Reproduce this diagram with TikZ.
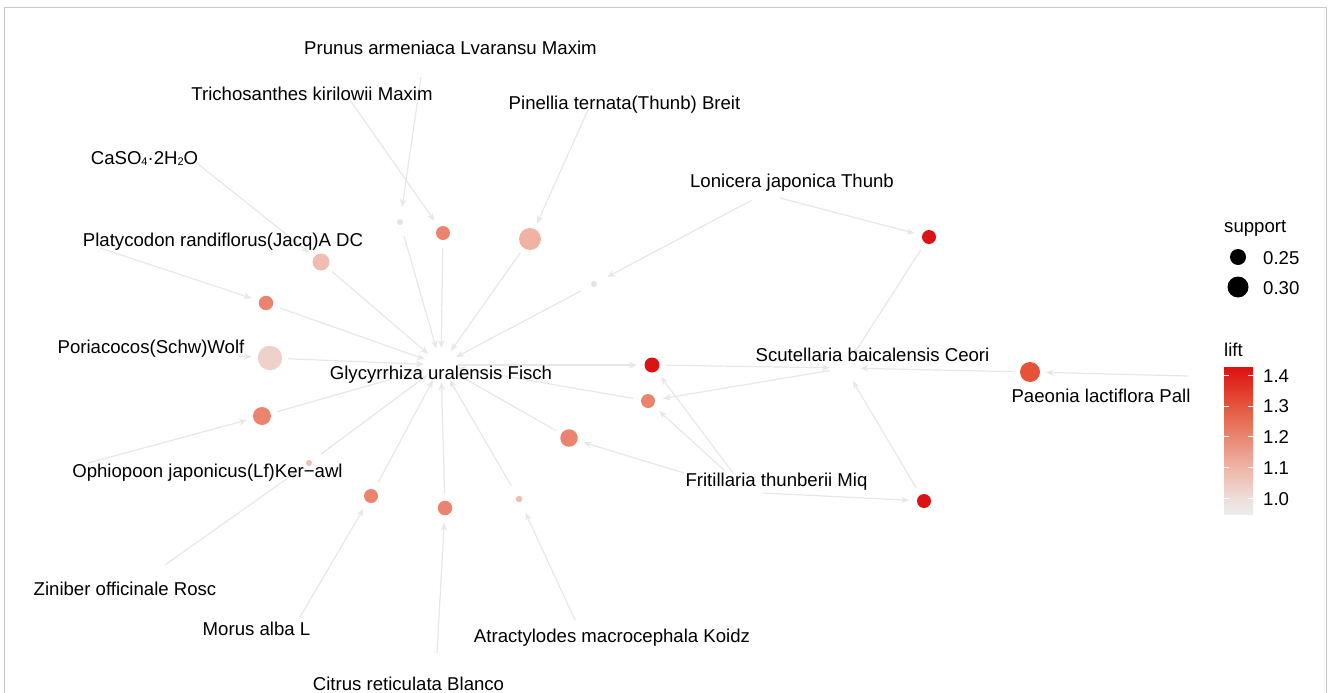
\documentclass[tikz,border=0pt]{standalone}
\usepackage{fontspec}
\setmainfont{Liberation Sans}
\usetikzlibrary{arrows.meta}
\definecolor{edgec}{RGB}{231,231,231}
\definecolor{framec}{RGB}{200,200,200}
\definecolor{cRed}{RGB}{222,18,18}
\definecolor{cPae}{RGB}{229,82,56}
\definecolor{cOr}{RGB}{234,132,110}
\definecolor{cPk}{RGB}{240,178,163}
\definecolor{cPk2}{RGB}{242,188,176}
\definecolor{cLt}{RGB}{238,210,202}
\definecolor{cGray}{RGB}{226,226,226}
\definecolor{gA}{RGB}{222,16,16}
\definecolor{gB}{RGB}{229,86,62}
\definecolor{gC}{RGB}{234,134,114}
\definecolor{gD}{RGB}{239,180,166}
\definecolor{gE}{RGB}{237,222,217}
\definecolor{gF}{RGB}{236,236,236}
\newcommand{\subdig}[1]{\raisebox{-1pt}{\fontsize{11}{11}\selectfont #1}}
\tikzset{
  rn/.style 2 args={circle, inner sep=0pt, draw=none, fill=#1, minimum size=#2},
  edge/.style={draw=edgec, line width=1.2pt, -{Stealth[length=8pt,width=6.5pt]}},
  lbl/.style={font=\fontsize{18.6}{22}\selectfont, text=black, inner sep=0pt, anchor=base},
  lgd/.style={font=\fontsize{18.6}{22}\selectfont, text=black, inner sep=0pt, anchor=base west},
  hub/.style={circle, inner sep=0pt, draw=none, minimum size=#1},
  tick/.style={draw=white, line width=0.8pt}
}
\begin{document}
\begin{tikzpicture}[x=1pt, y=-1pt]
\useasboundingbox (0,0) rectangle (1328,693);
% frame
\draw[framec, line width=1.5pt] (4.5,693) -- (4.5,7.5) -- (1326.5,7.5) -- (1326.5,693);

% item hubs
\node[hub=34pt] (G) at (441,365) {};
\node[hub=30pt] (S) at (845,368) {};

% item start points
\coordinate (prunusP) at (421,77);
\coordinate (trichP) at (350,100);
\coordinate (pinelP) at (588,110);
\coordinate (lonA) at (752,200);
\coordinate (lonB) at (780,198);
\coordinate (casoP) at (198,164);
\coordinate (platyP) at (100,248);
\coordinate (poriaP) at (238,356);
\coordinate (ophioP) at (88,463);
\coordinate (ziniP) at (165,565);
\coordinate (morusP) at (300,617);
\coordinate (citrusP) at (437,653);
\coordinate (atracP) at (575,620);
\coordinate (fritA) at (684,473);
\coordinate (fritB) at (733,473);
\coordinate (fritC) at (724,470);
\coordinate (fritD) at (763,493);
\coordinate (paeonP) at (1188,376);

% rule nodes
\node[rn={cGray}{6pt}, outer sep=12pt] (r1) at (400,222) {};
\node[rn={cOr}{14pt}, outer sep=8pt] (r2) at (443,233) {};
\node[rn={cPk}{22pt}, outer sep=6pt] (r3) at (530,239) {};
\node[rn={cGray}{6pt}, outer sep=12pt] (r4) at (594,284) {};
\node[rn={cRed}{14pt}, outer sep=8pt] (r5) at (929,237) {};
\node[rn={cPk2}{17pt}, outer sep=6.5pt] (r6) at (321,262) {};
\node[rn={cOr}{14.5pt}, outer sep=8pt] (r7) at (266,303) {};
\node[rn={cLt}{24.5pt}, outer sep=6pt] (r8) at (270,358) {};
\node[rn={cOr}{18pt}, outer sep=6.5pt] (r9) at (262,416) {};
\node[rn={cPk2}{6pt}, outer sep=12pt] (r10) at (309,463) {};
\node[rn={cOr}{14pt}, outer sep=8pt] (r11) at (371,496) {};
\node[rn={cOr}{14.5pt}, outer sep=7.5pt] (r12) at (445,508) {};
\node[rn={cPk2}{6.5pt}, outer sep=12pt] (r13) at (519,499) {};
\node[rn={cOr}{17.5pt}, outer sep=6.5pt] (r14) at (569,438) {};
\node[rn={cRed}{15pt}, outer sep=7.5pt] (r15) at (652,365) {};
\node[rn={cOr}{14pt}, outer sep=8pt] (r16) at (648,401) {};
\node[rn={cRed}{14pt}, outer sep=8pt] (r17) at (924,501) {};
\node[rn={cPae}{20pt}, outer sep=6pt] (r18) at (1030,372) {};

% edges: items -> rules
\draw[edge] (prunusP) -- (r1);
\draw[edge] (trichP) -- (r2);
\draw[edge] (pinelP) -- (r3);
\draw[edge] (lonA) -- (r4);
\draw[edge] (lonB) -- (r5);
\draw[edge] (casoP) -- (r6);
\draw[edge] (platyP) -- (r7);
\draw[edge] (poriaP) -- (r8);
\draw[edge] (ophioP) -- (r9);
\draw[edge] (ziniP) -- (r10);
\draw[edge] (morusP) -- (r11);
\draw[edge] (citrusP) -- (r12);
\draw[edge] (atracP) -- (r13);
\draw[edge] (fritA) -- (r14);
\draw[edge] (G) -- (r15);
\draw[edge] (fritB) -- (r15);
\draw[edge] (S) -- (r16);
\draw[edge] (fritC) -- (r16);
\draw[edge] (fritD) -- (r17);
\draw[edge] (paeonP) -- (r18);

% edges: rules -> items
\foreach \r in {r1,r2,r3,r4,r6,r7,r8,r9,r10,r11,r12,r13,r14,r16}
  \draw[edge] (\r) -- (G);
\foreach \r in {r5,r15,r17,r18}
  \draw[edge] (\r) -- (S);

% labels
\node[lbl] (lPrunus) at (450.5,55) {Prunus armeniaca Lvaransu Maxim};
\node[lbl] (lTrich) at (312,100) {Trichosanthes kirilowii Maxim};
\node[lbl] (lPinel) at (624.5,109) {Pinellia ternata(Thunb) Breit};
\node[lbl] (lCaso) at (144.5,164) {CaSO\subdig{4}·2H\subdig{2}O};
\node[lbl] (lLon) at (792,187) {Lonicera japonica Thunb};
\node[lbl] (lPlaty) at (223,246) {Platycodon randiflorus(Jacq)A DC};
\node[lbl] (lPoria) at (151,353) {Poriacocos(Schw)Wolf};
\node[lbl] (lGly) at (441,379) {Glycyrrhiza uralensis Fisch};
\node[lbl] (lScu) at (872.5,361) {Scutellaria baicalensis Ceori};
\node[lbl] (lPae) at (1101,402) {Paeonia lactiflora Pall};
\node[lbl] (lOphio) at (207.5,477) {Ophiopoon japonicus(Lf)Ker−awl};
\node[lbl] (lFrit) at (776.5,486) {Fritillaria thunberii Miq};
\node[lbl] (lZini) at (125,595) {Ziniber officinale Rosc};
\node[lbl] (lMorus) at (256.5,635) {Morus alba L};
\node[lbl] (lAtrac) at (612,642) {Atractylodes macrocephala Koidz};
\node[lbl] (lCitrus) at (408.5,690) {Citrus reticulata Blanco};

% legend: support
\node[lgd] (lgSup) at (1224,232) {support};
\node[circle, fill=black, inner sep=0pt, minimum size=16pt] (lgD1) at (1238,257) {};
\node[circle, fill=black, inner sep=0pt, minimum size=21pt] (lgD2) at (1238,287) {};
\node[lgd] (lgT1) at (1263,264) {0.25};
\node[lgd] (lgT2) at (1263,294) {0.30};

% legend: lift
\node[lgd] (lgLift) at (1224,356) {lift};
\shade[top color=gA, bottom color=gB] (1224,367) rectangle (1253,406.2);
\shade[top color=gB, bottom color=gC] (1224,405.9) rectangle (1253,436.9);
\shade[top color=gC, bottom color=gD] (1224,436.6) rectangle (1253,467.6);
\shade[top color=gD, bottom color=gE] (1224,467.3) rectangle (1253,498.3);
\shade[top color=gE, bottom color=gF] (1224,498) rectangle (1253,514);
\foreach \yy/\tt in {375.2/1.4, 405.9/1.3, 436.6/1.2, 467.3/1.1, 498/1.0} {
  \draw[tick] (1224,\yy) -- (1229,\yy);
  \draw[tick] (1248,\yy) -- (1253,\yy);
  \node[lgd] at (1263,\yy+7) {\tt};
}
\end{tikzpicture}
\end{document}
